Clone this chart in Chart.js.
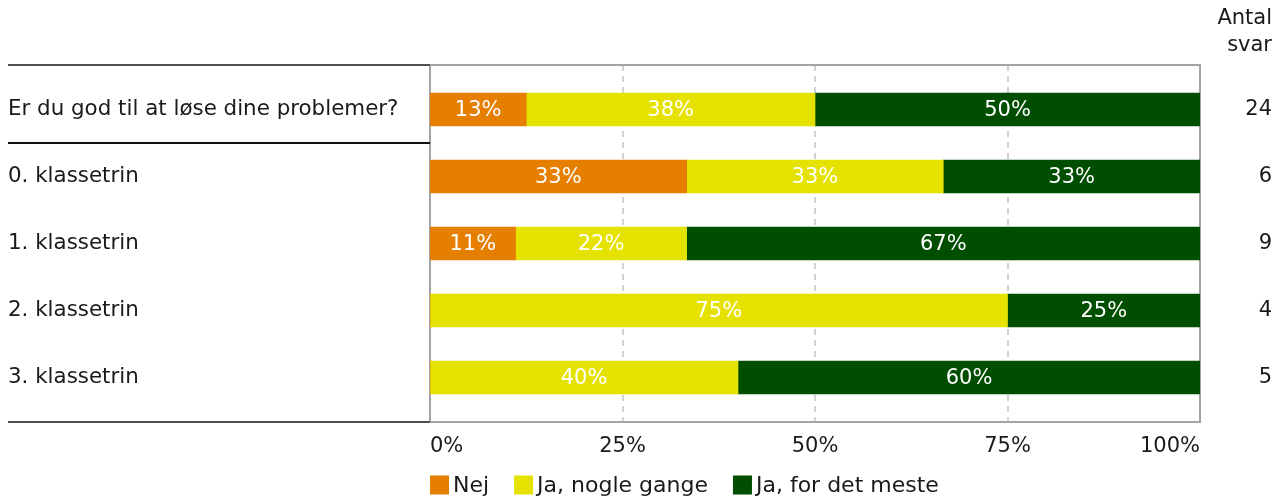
<!DOCTYPE html>
<html>
<head>
<meta charset="utf-8">
<script src="https://cdn.jsdelivr.net/npm/chart.js@4/dist/chart.umd.min.js"></script>
<style>
  html, body { margin: 0; padding: 0; background: #fff; }
  #wrap { width: 1285px; height: 500px; position: relative; }
</style>
</head>
<body>
<div id="wrap"><canvas id="chart"></canvas></div>
<script>
const categories = [
    'Er du god til at løse dine problemer?',
    '0. klassetrin',
    '1. klassetrin',
    '2. klassetrin',
    '3. klassetrin'
];
const answerCounts = [24, 6, 9, 4, 5];
const seriesNames = ['Nej', 'Ja, nogle gange', 'Ja, for det meste'];
// percentages per row
const nej = [12.5, 33.33, 11.11, 0, 0];
const nogleGange = [37.5, 33.33, 22.22, 75, 40];
const forDetMeste = [50, 33.33, 66.67, 25, 60];
const xTicks = [0, 25, 50, 75, 100];
const headerLines = ['Antal', 'svar'];

const colors = ['#E67E00', '#E6E200', '#004F00'];
const FONT = 'DejaVu Sans';
const TEXT = '#1a1a1a';

// frame, dashed grid lines, table rules and header
const framePlugin = {
    id: 'frame',
    beforeDatasetsDraw(chart) {
        const { ctx, chartArea } = chart;
        const x = chart.scales.x, y = chart.scales.y;
        const band = y.getPixelForValue(1) - y.getPixelForValue(0);
        const top = y.getPixelForValue(0) - band / 2 - 11;
        const bottom = y.getPixelForValue(categories.length - 1) + band / 2 + 11;
        ctx.save();
        ctx.strokeStyle = '#c4c4c4';
        ctx.lineWidth = 1.5;
        ctx.setLineDash([6, 5]);
        xTicks.slice(1, -1).forEach(v => {
            const px = Math.round(x.getPixelForValue(v));
            ctx.beginPath();
            ctx.moveTo(px, top);
            ctx.lineTo(px, bottom);
            ctx.stroke();
        });
        ctx.setLineDash([]);
        ctx.strokeStyle = '#a4a4a4';
        ctx.lineWidth = 2;
        ctx.strokeRect(chartArea.left, top, chartArea.right - chartArea.left, bottom - top);
        // left table rules
        ctx.strokeStyle = '#505050';
        ctx.beginPath();
        ctx.moveTo(8, top); ctx.lineTo(chartArea.left, top);
        ctx.moveTo(8, bottom); ctx.lineTo(chartArea.left, bottom);
        ctx.stroke();
        ctx.strokeStyle = '#111';
        const sep = (y.getPixelForValue(0) + y.getPixelForValue(1)) / 2;
        ctx.beginPath();
        ctx.moveTo(8, sep); ctx.lineTo(chartArea.left, sep);
        ctx.stroke();
        // header
        ctx.fillStyle = TEXT;
        ctx.font = '21px "' + FONT + '"';
        ctx.textAlign = 'right';
        ctx.textBaseline = 'middle';
        ctx.fillText(headerLines[0], 1272, 19);
        ctx.fillText(headerLines[1], 1272, 46);
        ctx.restore();
    },
    afterDatasetsDraw(chart) {
        const { ctx, chartArea } = chart;
        ctx.save();
        ctx.font = '21px "' + FONT + '"';
        ctx.fillStyle = '#fff';
        ctx.textAlign = 'center';
        ctx.textBaseline = 'middle';
        chart.data.datasets.forEach((ds, i) => {
            const meta = chart.getDatasetMeta(i);
            meta.data.forEach((bar, j) => {
                const v = ds.data[j];
                if (!v) return;
                ctx.fillText(Math.round(v) + '%', (bar.x + bar.base) / 2, bar.y + 1);
            });
        });
        // legend
        ctx.font = '22px "' + FONT + '"';
        let lx = chartArea.left;
        const ly = 485;
        ctx.textAlign = 'left';
        seriesNames.forEach((name, i) => {
            ctx.fillStyle = colors[i];
            ctx.fillRect(lx, ly - 9.5, 19, 19);
            ctx.fillStyle = TEXT;
            ctx.fillText(name, lx + 23, ly + 1);
            lx += 23 + ctx.measureText(name).width + 25;
        });
        ctx.restore();
    }
};

const ctx = document.getElementById('chart');
new Chart(ctx, {
    type: 'bar',
    data: {
        labels: categories,
        datasets: [nej, nogleGange, forDetMeste].map((d, i) => ({
            label: seriesNames[i],
            data: d,
            backgroundColor: colors[i],
            borderWidth: 0,
            barThickness: 33,
            yAxisID: 'y'
        }))
    },
    options: {
        indexAxis: 'y',
        responsive: true,
        maintainAspectRatio: false,
        animation: false,
        layout: { padding: { top: 76, left: 8, right: 13, bottom: 0 } },
        plugins: {
            legend: { display: false },
            tooltip: { enabled: false }
        },
        scales: {
            x: {
                stacked: true,
                min: 0,
                max: 100,
                afterBuildTicks: scale => { scale.ticks = xTicks.map(v => ({ value: v })); },
                afterFit: scale => { scale.height = 89; },
                grid: { display: false, drawTicks: false },
                border: { display: false },
                ticks: {
                    align: 'inner',
                    maxRotation: 0,
                    padding: 23,
                    color: TEXT,
                    font: { family: FONT, size: 21 },
                    callback: v => v + '%'
                }
            },
            y: {
                stacked: true,
                afterFit: scale => { scale.width = 422; },
                grid: { display: false, drawTicks: false },
                border: { display: false },
                ticks: {
                    crossAlign: 'far',
                    color: TEXT,
                    font: { family: FONT, size: 21.4 }
                }
            },
            y2: {
                type: 'category',
                position: 'right',
                labels: answerCounts.map(String),
                afterFit: scale => { scale.width = 72; },
                grid: { display: false, drawTicks: false },
                border: { display: false },
                ticks: {
                    crossAlign: 'far',
                    color: TEXT,
                    font: { family: FONT, size: 21 }
                }
            }
        }
    },
    plugins: [framePlugin]
});
</script>
</body>
</html>
